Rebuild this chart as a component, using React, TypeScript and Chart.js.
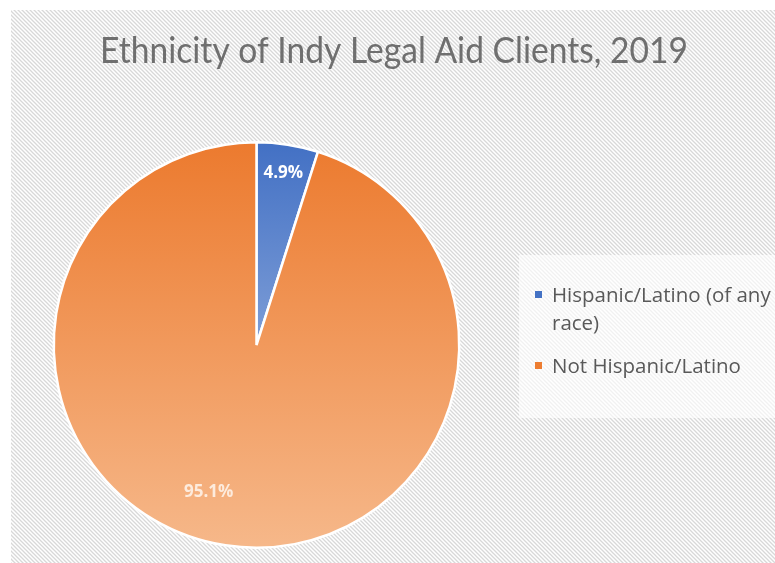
import React, { useEffect, useRef } from "react";
import { Chart, registerables } from "chart.js";

Chart.register(...registerables);

const TITLE = "Ethnicity of Indy Legal Aid Clients, 2019";
const categories = ["Hispanic/Latino (of any race)", "Not Hispanic/Latino"];
const legendLines = [["Hispanic/Latino (of any", "race)"], ["Not Hispanic/Latino"]];
const values = [4.9, 95.1];
const valueLabels = ["4.9%", "95.1%"];

const gradTop = ["#4270C4", "#EC7A2E"];
const gradBottom = ["#B9CBEA", "#F6B88A"];
const labelColors = ["#FFFFFF", "#FDEBDD"];
const swatchColors = ["#4472C4", "#ED7D31"];

const W = 775;
const H = 563;

function makeHatch(): CanvasPattern | null {
  const p = 4;
  const c = document.createElement("canvas");
  c.width = p;
  c.height = p;
  const g = c.getContext("2d")!;
  g.fillStyle = "#ffffff";
  g.fillRect(0, 0, p, p);
  g.strokeStyle = "#d8d8d8";
  g.lineWidth = 1.3;
  g.beginPath();
  g.moveTo(-1, -1);
  g.lineTo(p + 1, p + 1);
  g.moveTo(-1, p - 1);
  g.lineTo(1, p + 1);
  g.moveTo(p - 1, -1);
  g.lineTo(p + 1, 1);
  g.stroke();
  return g.createPattern(c, "repeat");
}

const backgroundPlugin = {
  id: "bgHatch",
  beforeDraw(chart: any) {
    const ctx = chart.ctx as CanvasRenderingContext2D;
    ctx.save();
    ctx.fillStyle = "#ffffff";
    ctx.fillRect(0, 0, W, H);
    const pat = makeHatch();
    if (pat) {
      ctx.fillStyle = pat;
      ctx.fillRect(11, 10, W - 11, H - 10);
    }
    // title
    ctx.fillStyle = "#6f6f6f";
    ctx.font = '36px "Lato", "Open Sans", sans-serif';
    ctx.textAlign = "center";
    ctx.textBaseline = "alphabetic";
    ctx.fillText(TITLE, 394, 63, 588);
    // legend box
    ctx.fillStyle = "rgba(255,255,255,0.65)";
    ctx.fillRect(519, 255, W - 519, 163);
    ctx.restore();
  },
};

const overlayPlugin = {
  id: "overlay",
  afterDraw(chart: any) {
    const ctx = chart.ctx as CanvasRenderingContext2D;
    const meta = chart.getDatasetMeta(0);
    ctx.save();
    // data labels
    const radFactor = [0.86, 0.765];
    const angOffset = [0, 0.16];
    ctx.font = 'bold 17px "Open Sans", sans-serif';
    ctx.textAlign = "center";
    ctx.textBaseline = "middle";
    meta.data.forEach((arc: any, i: number) => {
      const { x, y, startAngle, endAngle, outerRadius } = arc.getProps(
        ["x", "y", "startAngle", "endAngle", "outerRadius"],
        true
      );
      const mid = (startAngle + endAngle) / 2 + angOffset[i];
      const r = outerRadius * radFactor[i];
      ctx.fillStyle = labelColors[i];
      ctx.fillText(valueLabels[i], x + Math.cos(mid) * r, y + Math.sin(mid) * r);
    });
    // legend
    ctx.textAlign = "left";
    ctx.textBaseline = "alphabetic";
    ctx.font = '20.5px "Open Sans", sans-serif';
    const itemY = [302, 373];
    categories.forEach((_, i) => {
      ctx.fillStyle = swatchColors[i];
      ctx.fillRect(535, itemY[i] - 11, 7, 7);
      ctx.fillStyle = "#595959";
      legendLines[i].forEach((line, j) => {
        ctx.fillText(line, 552, itemY[i] + j * 28, 222);
      });
    });
    ctx.restore();
  },
};

export default function App() {
  const ref = useRef<HTMLCanvasElement | null>(null);
  useEffect(() => {
    if (!ref.current) return;
    const chart = new Chart(ref.current, {
      type: "pie",
      data: {
        labels: categories,
        datasets: [
          {
            data: values,
            backgroundColor: (ctx: any) => {
              const c = ctx.chart;
              const area = c.chartArea;
              if (!area) return gradTop[ctx.dataIndex];
              const g = c.ctx.createLinearGradient(0, area.top, 0, area.bottom);
              g.addColorStop(0, gradTop[ctx.dataIndex]);
              g.addColorStop(1, gradBottom[ctx.dataIndex]);
              return g;
            },
            borderColor: "#ffffff",
            borderWidth: 2.5,
          },
        ],
      },
      options: {
        animation: false,
        responsive: false,
        devicePixelRatio: 1,
        layout: { padding: { left: 52, right: 314, top: 141, bottom: 14 } },
        plugins: {
          legend: { display: false },
          title: { display: false },
          tooltip: { enabled: false },
        },
      },
      plugins: [backgroundPlugin, overlayPlugin],
    });
    return () => chart.destroy();
  }, []);
  return (
    <div style={{ position: "fixed", left: 0, top: 0, width: W, height: H }}>
      <canvas ref={ref} width={W} height={H} style={{ width: W, height: H, display: "block" }} />
    </div>
  );
}
